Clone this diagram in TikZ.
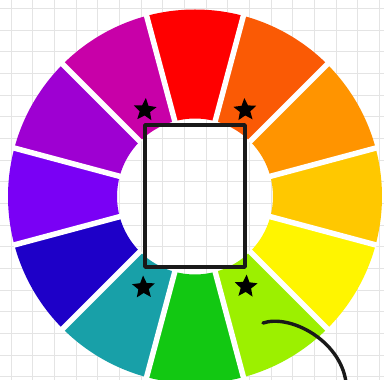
\documentclass[tikz,border=0pt]{standalone}
\usetikzlibrary{shapes.geometric,calc}
\definecolor{cRed}{HTML}{FF0000}
\definecolor{cRO}{HTML}{FA5A05}
\definecolor{cOr}{HTML}{FF9400}
\definecolor{cYO}{HTML}{FFC800}
\definecolor{cYe}{HTML}{FFF500}
\definecolor{cYG}{HTML}{9CF000}
\definecolor{cGr}{HTML}{12C812}
\definecolor{cTe}{HTML}{18A0A8}
\definecolor{cBl}{HTML}{1E00C8}
\definecolor{cVi}{HTML}{7A00F5}
\definecolor{cPu}{HTML}{9E00D2}
\definecolor{cMa}{HTML}{C800A8}
\definecolor{gridc}{HTML}{E4E4E4}
\tikzset{
  gridline/.style={draw=gridc, line width=0.9pt},
  gapline/.style={draw=white, line width=5.5pt},
  starnode/.style={star, star points=5, star point ratio=2.2, fill=black, minimum size=24pt, inner sep=0pt},
  framebox/.style={draw=black!90, line width=3.4pt, line join=round, minimum width=100pt, minimum height=142pt, inner sep=0pt},
  pen/.style={draw=black!90, line width=3.4pt, line cap=round}
}
\begin{document}
\begin{tikzpicture}[x=1pt,y=1pt]
\useasboundingbox (0,0) rectangle (384,380);
\clip (0,0) rectangle (384,380);
\fill[white] (0,0) rectangle (384,380);
\foreach \i in {0,...,17} \draw[gridline] ({11+\i*21.67},0) -- ({11+\i*21.67},380);
\foreach \j in {0,...,17} \draw[gridline] (0,{371.7-\j*21.67}) -- (384,{371.7-\j*21.67});
\coordinate (c) at (195,183.5);
\foreach \a/\col in {90/cRed,60/cRO,30/cOr,0/cYO,-30/cYe,-60/cYG,-90/cGr,-120/cTe,-150/cBl,180/cVi,150/cPu,120/cMa}
  \fill[\col] ($(c)+({\a-15}:187)$) arc[start angle={\a-15}, end angle={\a+15}, radius=187]
     -- ($(c)+({\a+15}:78)$) arc[start angle={\a+15}, end angle={\a-15}, radius=78] -- cycle;
\foreach \b in {0,...,11}
  \draw[gapline] ($(c)+({105+30*\b}:77)$) -- ($(c)+({105+30*\b}:188)$);
\node[framebox] (frame) at (195,184) {};
\node[starnode, rotate=-4] (s1) at (145,270) {};
\node[starnode, rotate=3] (s2) at (245,270) {};
\node[starnode, rotate=2] (s3) at (143.5,92.5) {};
\node[starnode, rotate=-3] (s4) at (246,93.5) {};
\coordinate (p0) at (263,57);
\coordinate (p1) at (346,-2);
\draw[pen] (p0) .. controls (290,66) and (340,40) .. (p1);
\end{tikzpicture}
\end{document}
